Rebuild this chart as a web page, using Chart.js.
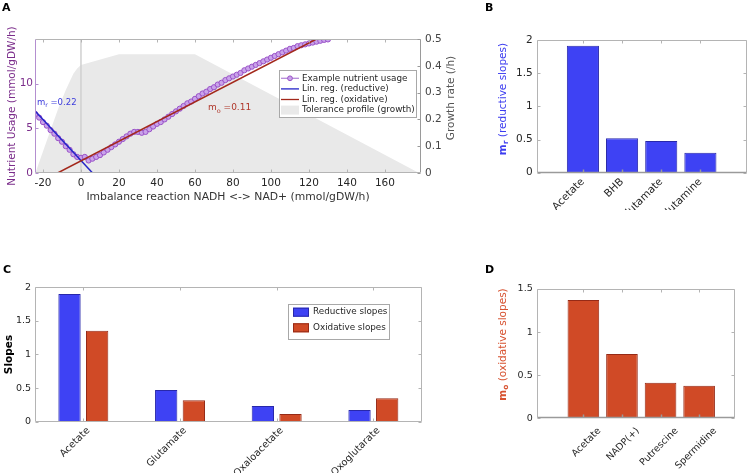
<!DOCTYPE html>
<html>
<head>
<meta charset="utf-8">
<script src="https://cdn.jsdelivr.net/npm/chart.js@4.4.1/dist/chart.umd.min.js"></script>
<style>
  html, body { margin: 0; padding: 0; background: #fff; }
  #fig { position: relative; width: 747px; height: 473px; overflow: hidden; }
  .pane { position: absolute; }
  .tag { position: absolute; font: bold 11px "DejaVu Sans", sans-serif; color: #000; }
</style>
</head>
<body>
<div id="fig">
  <div class="pane" style="left:0;top:0;width:470px;height:210px"><canvas id="chartA"></canvas></div>
  <div class="pane" style="left:470px;top:0;width:277px;height:210px"><canvas id="chartB"></canvas></div>
  <div class="pane" style="left:0;top:262px;width:470px;height:211px"><canvas id="chartC"></canvas></div>
  <div class="pane" style="left:470px;top:262px;width:277px;height:211px"><canvas id="chartD"></canvas></div>
  <div class="tag" style="left:2px;top:1px">A</div>
  <div class="tag" style="left:485px;top:1px">B</div>
  <div class="tag" style="left:3px;top:263px">C</div>
  <div class="tag" style="left:485px;top:263px">D</div>
</div>
<script>
// --- Panel A: nutrient usage vs imbalance reaction
const usageX = [-24, -22, -20, -18, -16, -14, -12, -10, -8, -6, -4, -2, 0, 2, 4, 6, 8, 10, 12, 14,
  16, 18, 20, 22, 24, 26, 28, 30, 32, 34, 36, 38, 40, 42, 44, 46, 48, 50, 52, 54,
  56, 58, 60, 62, 64, 66, 68, 70, 72, 74, 76, 78, 80, 82, 84, 86, 88, 90, 92, 94,
  96, 98, 100, 102, 104, 106, 108, 110, 112, 114, 116, 118, 120, 122, 124, 126, 128, 130];
const usageY = [6.6, 6.2, 5.7, 5.3, 4.8, 4.4, 3.9, 3.5, 3.0, 2.6, 2.1, 1.8, 1.7, 1.8, 1.4, 1.6, 1.8, 2.0, 2.3, 2.6,
  2.9, 3.2, 3.5, 3.8, 4.1, 4.4, 4.6, 4.6, 4.5, 4.6, 4.9, 5.2, 5.5, 5.7, 6.0, 6.3, 6.6, 6.9, 7.2, 7.5,
  7.8, 8.0, 8.3, 8.6, 8.9, 9.1, 9.4, 9.6, 9.9, 10.1, 10.4, 10.6, 10.8, 11.0, 11.2, 11.5, 11.7, 11.9, 12.1, 12.3,
  12.5, 12.7, 12.9, 13.1, 13.3, 13.5, 13.7, 13.9, 14.0, 14.2, 14.3, 14.4, 14.5, 14.6, 14.7, 14.8, 14.9, 14.95];
const reductiveFitX = [-24.4, 6.1];
const reductiveFitY = [7.0, 0];
const oxidativeFitX = [-12.3, 124];
const oxidativeFitY = [0, 15];
const toleranceX = [-24, -20, -16, -12, -8, -4, -2, 0, 20, 60, 178];
const toleranceGrowth = [0, 0.08, 0.16, 0.24, 0.31, 0.37, 0.39, 0.403, 0.443, 0.443, 0];
const zeroLineX = [0, 0];
const zeroLineY = [0, 15];
const xTicksA = [-20, 0, 20, 40, 60, 80, 100, 120, 140, 160];
const yTicksA = [0, 5, 10];
const growthTicks = [0, 0.1, 0.2, 0.3, 0.4, 0.5];

// --- Panel B: reductive slopes
const reductiveNames = ['Acetate', 'BHB', 'Glutamate', 'Glutamine'];
const reductiveSlopes = [1.914, 0.518, 0.478, 0.301];

// --- Panel C: both slopes
const slopeNames = ['Acetate', 'Glutamate', 'Oxaloacetate', 'Oxoglutarate'];
const reductiveAll = [1.90, 0.47, 0.234, 0.174];
const oxidativeAll = [1.354, 0.32, 0.115, 0.35];

// --- Panel D: oxidative slopes
const oxidativeNames = ['Acetate', 'NADP(+)', 'Putrescine', 'Spermidine'];
const oxidativeSlopes = [1.372, 0.746, 0.413, 0.378];

const FONT = '"DejaVu Sans", sans-serif';
const BLUE = 'rgb(62,66,244)', BLUE_EDGE = 'rgb(40,40,170)';
const RED = 'rgb(208,74,38)', RED_EDGE = 'rgb(150,42,22)';
const TXT = '#262626', AX = '#b4b4b4';

Chart.defaults.font.family = FONT;
Chart.defaults.animation = false;
Chart.defaults.plugins.legend.display = false;
Chart.defaults.plugins.tooltip.enabled = false;

const zipXY = (xs, ys) => xs.map((x, i) => ({ x, y: ys[i] }));
const fit = size => scale => { if (scale.isHorizontal()) scale.height = size; else scale.width = size; };
const setTicks = vals => scale => { scale.ticks = vals.map(v => ({ value: v })); };
const plain = v => String(+(+v).toFixed(3));

// box + inward ticks, matlab style
const matBox = {
  id: 'matBox',
  afterDatasetsDraw(chart, args, o) {
    const { ctx, chartArea: a, scales } = chart;
    const L = o.len || 3;
    const sx = scales.x, sl = scales.y, sr = scales[o.rightScale || 'y'];
    const l = Math.round(a.left) + 0.5, r = Math.round(a.right) - 0.5;
    const t = Math.round(a.top) + 0.5, b = Math.round(a.bottom) - 0.5;
    const seg = (color, width, list) => {
      ctx.strokeStyle = color; ctx.lineWidth = width; ctx.beginPath();
      list.forEach(p => { ctx.moveTo(p[0], p[1]); ctx.lineTo(p[2], p[3]); });
      ctx.stroke();
    };
    ctx.save();
    const xt = sx.ticks.map((_, i) => Math.round(sx.getPixelForTick(i)) + 0.5);
    const lt = sl.ticks.map((_, i) => Math.round(sl.getPixelForTick(i)) + 0.5);
    const rt = sr.ticks.map((_, i) => Math.round(sr.getPixelForTick(i)) + 0.5);
    seg(o.top || AX, 1, [[l, t, r, t]].concat(xt.map(p => [p, t, p, t + L])));
    seg(o.right || AX, 1, [[r, t, r, b]].concat(rt.map(p => [r, p, r - L, p])));
    seg(o.left || AX, 1, [[l, t, l, b]].concat(lt.map(p => [l, p, l + L, p])));
    seg(o.bottom || AX, o.bottomWidth || 1, [[l, b, r, b]].concat(xt.map(p => [p, b, p, b - L])));
    ctx.restore();
  }
};

// free text with bold / subscript parts
const notes = {
  id: 'notes',
  afterDraw(chart, args, o) {
    const { ctx } = chart;
    (o.items || []).forEach(it => {
      const fontOf = p => `${p.bold ? 'bold ' : ''}${p.sub ? it.size * 0.72 : it.size}px ${FONT}`;
      ctx.save();
      ctx.translate(it.x, it.y);
      if (it.rot) ctx.rotate(it.rot * Math.PI / 180);
      ctx.fillStyle = it.color;
      ctx.textBaseline = 'middle';
      let w = 0;
      it.parts.forEach(p => { ctx.font = fontOf(p); w += ctx.measureText(p.t).width; });
      let cx = it.align === 'center' ? -w / 2 : 0;
      it.parts.forEach(p => {
        ctx.font = fontOf(p);
        ctx.fillText(p.t, cx, p.sub ? it.size * 0.32 : 0);
        cx += ctx.measureText(p.t).width;
      });
      ctx.restore();
    });
  }
};

// legend box placed inside the plot
const boxLegend = {
  id: 'boxLegend',
  afterDraw(chart, args, o) {
    if (!o.entries) return;
    const { ctx } = chart;
    ctx.save();
    ctx.fillStyle = '#fff';
    ctx.fillRect(o.x, o.y, o.w, o.h);
    ctx.strokeStyle = '#a8a8a8'; ctx.lineWidth = 1;
    ctx.strokeRect(o.x + 0.5, o.y + 0.5, o.w, o.h);
    ctx.font = `${o.size}px ${FONT}`;
    ctx.textBaseline = 'middle';
    o.entries.forEach((e, i) => {
      const ds = chart.data.datasets[e.ds];
      const cy = o.y + o.first + i * o.row;
      const x0 = o.x + o.pad, x1 = x0 + o.sample;
      if (e.kind === 'patch') {
        ctx.fillStyle = ds.backgroundColor;
        ctx.fillRect(x0, cy - o.patchH / 2, o.sample, o.patchH);
        if (e.edge) { ctx.strokeStyle = ds.borderColor; ctx.strokeRect(x0 + 0.5, cy - o.patchH / 2 + 0.5, o.sample - 1, o.patchH - 1); }
      } else {
        ctx.strokeStyle = ds.borderColor; ctx.lineWidth = 1.3;
        ctx.beginPath(); ctx.moveTo(x0, cy); ctx.lineTo(x1, cy); ctx.stroke();
        if (e.kind === 'marker') {
          ctx.fillStyle = ds.pointBackgroundColor; ctx.strokeStyle = ds.pointBorderColor; ctx.lineWidth = 1;
          ctx.beginPath(); ctx.arc((x0 + x1) / 2, cy, 2.4, 0, Math.PI * 2); ctx.fill(); ctx.stroke();
        }
      }
      ctx.fillStyle = TXT;
      ctx.fillText(ds.label, x1 + o.gap, cy);
    });
    ctx.restore();
  }
};

Chart.register(matBox, notes, boxLegend);

// ---------- A
new Chart(document.getElementById('chartA'), {
  type: 'line',
  data: {
    datasets: [
      { label: 'Tolerance profile (growth)', data: zipXY(toleranceX, toleranceGrowth), yAxisID: 'y2',
        fill: 'origin', backgroundColor: '#e9e9e9', borderWidth: 0, pointRadius: 0, order: 5 },
      { label: 'zero', data: zipXY(zeroLineX, zeroLineY), borderColor: '#d0d0d0', borderWidth: 1.5, pointRadius: 0, order: 4 },
      { label: 'Example nutrient usage', data: zipXY(usageX, usageY), borderColor: '#b58ad8', borderWidth: 1,
        pointRadius: 2.6, pointBorderColor: '#9a52c8', pointBackgroundColor: '#c9a3ea', pointBorderWidth: 1, order: 3 },
      { label: 'Lin. reg. (reductive)', data: zipXY(reductiveFitX, reductiveFitY), borderColor: '#2424c8', borderWidth: 1.5, pointRadius: 0, order: 2 },
      { label: 'Lin. reg. (oxidative)', data: zipXY(oxidativeFitX, oxidativeFitY), borderColor: '#a3281b', borderWidth: 1.5, pointRadius: 0, order: 1 },
    ]
  },
  options: {
    responsive: true, maintainAspectRatio: false,
    layout: { padding: { top: 39, left: 0, right: 0, bottom: 0 } },
    scales: {
      x: {
        type: 'linear', min: -24.2, max: 179, afterBuildTicks: setTicks(xTicksA), afterFit: fit(37),
        grid: { display: false, drawTicks: false }, border: { display: false },
        ticks: { color: TXT, font: { size: 10.5 }, padding: 4, maxRotation: 0, autoSkip: false },
        title: { display: true, text: 'Imbalance reaction NADH <-> NAD+ (mmol/gDW/h)', color: '#333', font: { size: 10.8 }, padding: { bottom: 6 } }
      },
      y: {
        position: 'left', min: 0, max: 15, afterBuildTicks: setTicks(yTicksA), afterFit: fit(35),
        grid: { display: false, drawTicks: false }, border: { display: false },
        ticks: { color: '#7b2d8b', font: { size: 10.5 }, padding: 2 },
        title: { display: true, text: 'Nutrient Usage (mmol/gDW/h)', color: '#7b2d8b', font: { size: 10.5 }, padding: { top: 6 } }
      },
      y2: {
        position: 'right', min: 0, max: 0.5, afterBuildTicks: setTicks(growthTicks), afterFit: fit(49),
        grid: { display: false, drawTicks: false }, border: { display: false },
        ticks: { color: '#444', font: { size: 10.5 }, padding: 4, callback: plain }
      }
    },
    plugins: {
      matBox: { rightScale: 'y2', left: '#b48fd0', right: '#9a9a9a' },
      notes: { items: [
        { x: 451, y: 98, rot: -90, align: 'center', color: '#555', size: 10.5, parts: [{ t: 'Growth rate (/h)' }] },
        { x: 37, y: 103, color: '#3b3bdc', size: 8.5, parts: [{ t: 'm' }, { t: 'r', sub: true }, { t: ' =0.22' }] },
        { x: 208, y: 108, color: '#b0372a', size: 9, parts: [{ t: 'm' }, { t: 'o', sub: true }, { t: ' =0.11' }] },
      ] },
      boxLegend: { x: 279, y: 70, w: 137, h: 47, first: 8.3, row: 10.6, pad: 2, sample: 18, gap: 3, size: 8.8, patchH: 9,
        entries: [{ ds: 2, kind: 'marker' }, { ds: 3, kind: 'line' }, { ds: 4, kind: 'line' }, { ds: 0, kind: 'patch' }] }
    }
  }
});

// ---------- B and D (single series, linear index axis)
function singleBars(id, names, values, fill, edge, xmin, xmax, ymax, area, label) {
  return new Chart(document.getElementById(id), {
    type: 'bar',
    data: { datasets: [{ data: names.map((n, i) => ({ x: i + 1, y: values[i] })),
      backgroundColor: fill, borderColor: edge, borderWidth: 1, categoryPercentage: 1, barPercentage: 0.82 }] },
    options: {
      responsive: true, maintainAspectRatio: false,
      layout: { padding: { top: area.top, right: area.right, left: 0, bottom: 0 } },
      scales: {
        x: {
          type: 'linear', offset: false, min: xmin, max: xmax, afterBuildTicks: setTicks(names.map((n, i) => i + 1)),
          afterFit: fit(area.xh), grid: { display: false, drawTicks: false }, border: { display: false },
          ticks: { color: TXT, font: { size: area.fs }, padding: area.lp, labelOffset: area.lo, minRotation: 45, maxRotation: 45, autoSkip: false,
            callback: v => names[v - 1] }
        },
        y: {
          min: 0, max: ymax, ticks: { stepSize: 0.5, color: TXT, font: { size: area.fs }, padding: 4, callback: plain },
          afterFit: fit(area.yw), grid: { display: false, drawTicks: false }, border: { display: false }
        }
      },
      plugins: {
        matBox: { bottom: '#9a9a9a', bottomWidth: 1.5 },
        notes: { items: [label] }
      }
    }
  });
}

singleBars('chartB', reductiveNames, reductiveSlopes, BLUE, BLUE_EDGE, -0.18, 5.19, 2,
  { top: 40, right: 0, xh: 210 - 172.7, yw: 66.7, fs: 10.5, lp: 3, lo: 0 },
  { x: 33, y: 99, rot: -90, align: 'center', color: 'rgb(60,60,240)', size: 10.5,
    parts: [{ t: 'm', bold: true }, { t: 'r', bold: true, sub: true }, { t: ' (reductive slopes)' }] });

singleBars('chartD', oxidativeNames, oxidativeSlopes, RED, RED_EDGE, -0.21, 4.93, 1.5,
  { top: 27, right: 12, xh: 211 - 156.3, yw: 66.7, fs: 9.5, lp: 7, lo: 16 },
  { x: 33, y: 82.5, rot: -90, align: 'center', color: 'rgb(215,82,48)', size: 10.5,
    parts: [{ t: 'm', bold: true }, { t: 'o', bold: true, sub: true }, { t: ' (oxidative slopes)' }] });

// ---------- C (grouped)
new Chart(document.getElementById('chartC'), {
  type: 'bar',
  data: {
    labels: slopeNames,
    datasets: [
      { label: 'Reductive slopes', data: reductiveAll, backgroundColor: BLUE, borderColor: BLUE_EDGE, borderWidth: 1,
        categoryPercentage: 0.572, barPercentage: 0.807 },
      { label: 'Oxidative slopes', data: oxidativeAll, backgroundColor: RED, borderColor: RED_EDGE, borderWidth: 1,
        categoryPercentage: 0.572, barPercentage: 0.807 }
    ]
  },
  options: {
    responsive: true, maintainAspectRatio: false,
    layout: { padding: { top: 25.3, right: 48.3, left: 0, bottom: 0 } },
    scales: {
      x: {
        afterFit: fit(211 - 159.7), grid: { display: false, drawTicks: false }, border: { display: false },
        ticks: { color: TXT, font: { size: 9.8 }, padding: 3, labelOffset: 5, minRotation: 45, maxRotation: 45, autoSkip: false }
      },
      y: {
        min: 0, max: 2, ticks: { stepSize: 0.5, color: TXT, font: { size: 9.5 }, padding: 4, callback: plain },
        afterFit: fit(35), grid: { display: false, drawTicks: false }, border: { display: false },
        title: { display: true, text: 'Slopes', color: '#000', font: { size: 10.5, weight: 'bold' }, padding: { top: 3 } }
      }
    },
    plugins: {
      matBox: {},
      boxLegend: { x: 288, y: 42, w: 101, h: 35, first: 8.2, row: 15.6, pad: 5, sample: 16, gap: 4, size: 8.8, patchH: 9,
        entries: [{ ds: 0, kind: 'patch', edge: true }, { ds: 1, kind: 'patch', edge: true }] }
    }
  }
});
</script>
</body>
</html>
